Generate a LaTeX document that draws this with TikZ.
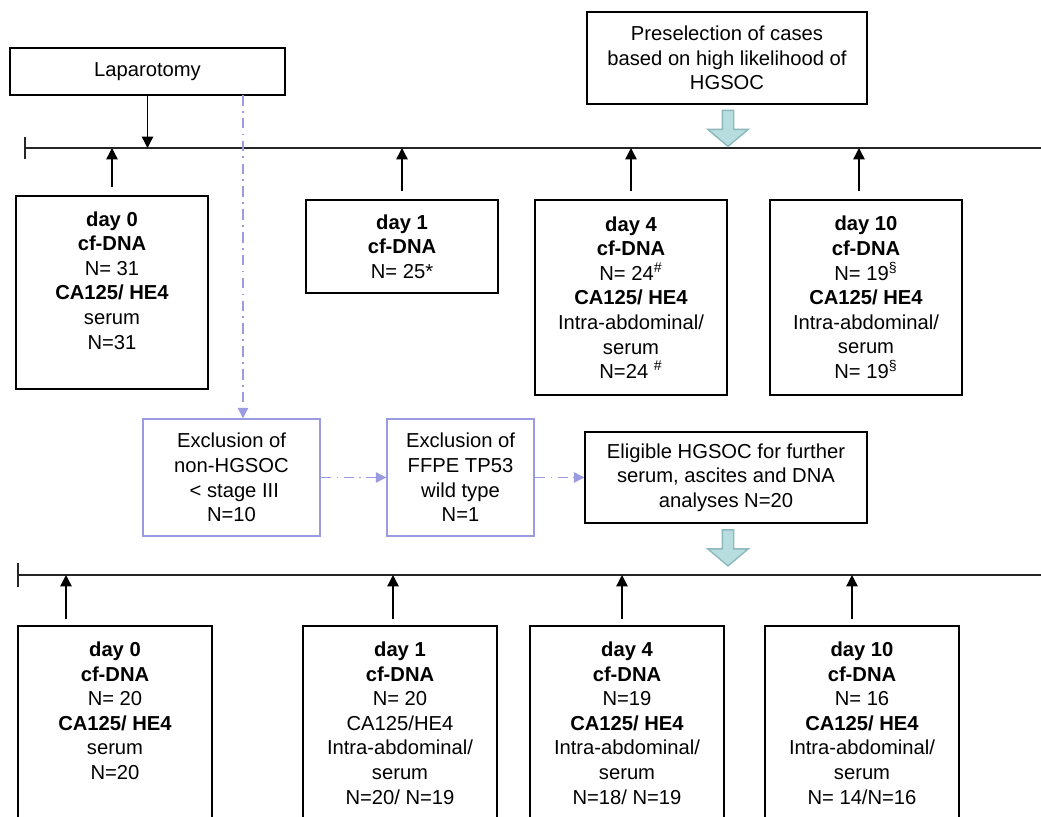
\documentclass[tikz,border=0pt]{standalone}
\usepackage{fontspec}
\setmainfont{Liberation Sans}
\usetikzlibrary{arrows.meta,shapes.arrows}
\definecolor{lavender}{RGB}{155,155,225}
\definecolor{tealfill}{RGB}{183,221,222}
\definecolor{tealline}{RGB}{140,185,188}

\begin{document}
\begin{tikzpicture}[x=0.02cm,y=-0.02cm,font=\fontsize{11.5}{14}\selectfont]
	\useasboundingbox (0,0) rectangle (1041,817);
	\clip (0,0) rectangle (1041,817);

	\begin{scope}[every node/.style={rectangle,draw,line width=0.8pt,align=center,inner sep=0pt}]
	    \node[minimum width=5.5cm,minimum height=0.94cm] (lap) at (147.5,71.5) {Laparotomy};
	    \node[minimum width=5.6cm,minimum height=1.84cm] (pre) at (727,58) {Preselection of cases\\ based on high likelihood of\\ HGSOC};
	    % first time line
	    \node[minimum width=3.84cm,minimum height=3.86cm] (a0) at (112,292.5) {\textbf{day 0}\\ \textbf{cf-DNA}\\ N= 31\\ \textbf{CA125/\ HE4}\\ serum\\ N=31\\ \mbox{}};
	    \node[minimum width=3.84cm,minimum height=1.86cm] (a1) at (402,246.5) {\textbf{day 1}\\ \textbf{cf-DNA}\\ N= 25*};
	    \node[minimum width=3.84cm,minimum height=3.9cm] (a4) at (631,297.5) {\textbf{day 4}\\ \textbf{cf-DNA}\\ N= 24\textsuperscript{\#}\\ \textbf{CA125/\ HE4}\\ Intra-abdominal/\\ serum\\ N=24 \textsuperscript{\#}};
	    \node[minimum width=3.84cm,minimum height=3.9cm] (a10) at (866,297.5) {\textbf{day 10}\\ \textbf{cf-DNA}\\ N= 19\textsuperscript{\S}\\ \textbf{CA125/\ HE4}\\ Intra-abdominal/\\ serum\\ N= 19\textsuperscript{\S}};
	    % selection
	    \node[draw=lavender,minimum width=3.54cm,minimum height=2.34cm] (ex1) at (231.5,477.5) {Exclusion of\\ non-HGSOC\\ \ < stage III\\ N=10};
	    \node[draw=lavender,minimum width=2.94cm,minimum height=2.34cm] (ex2) at (460.5,477.5) {Exclusion of\\ FFPE TP53\\ wild type\\ N=1};
	    \node[minimum width=5.64cm,minimum height=1.82cm] (elig) at (726,477.5) {Eligible HGSOC for further\\ serum, ascites and DNA\\ analyses N=20};
	    % second time line
	    \node[minimum width=3.88cm,minimum height=3.88cm] (b0) at (115,723) {\textbf{day 0}\\ \textbf{cf-DNA}\\ N= 20\\ \textbf{CA125/\ HE4}\\ serum\\ N=20\\ \mbox{}};
	    \node[minimum width=3.88cm,minimum height=3.88cm] (b1) at (400,723) {\textbf{day 1}\\ \textbf{cf-DNA}\\ N= 20\\ CA125/HE4\\ Intra-abdominal/\\ serum\\ N=20/ N=19};
	    \node[minimum width=3.88cm,minimum height=3.88cm] (b4) at (627,723) {\textbf{day 4}\\ \textbf{cf-DNA}\\ N=19\\ \textbf{CA125/\ HE4}\\ Intra-abdominal/\\ serum\\ N=18/ N=19};
	    \node[minimum width=3.88cm,minimum height=3.88cm] (b10) at (862,723) {\textbf{day 10}\\ \textbf{cf-DNA}\\ N= 16\\ \textbf{CA125/\ HE4}\\ Intra-abdominal/\\ serum\\ N= 14/N=16};
	\end{scope}

	% time lines
	\coordinate (t1) at (25,148);
	\coordinate (t1end) at (1041,148);
	\coordinate (t2) at (18,575);
	\coordinate (t2end) at (1041,575);
	\draw[black!85,line width=0.8pt] (t1) -- (t1end);
	\draw[black!85,line width=0.8pt] ([yshift=0.22cm]t1) -- ([yshift=-0.22cm]t1);
	\draw[black!85,line width=0.8pt] (t2) -- (t2end);
	\draw[black!85,line width=0.8pt] ([yshift=0.24cm]t2) -- ([yshift=-0.24cm]t2);

	% block arrows
	\begin{scope}[every node/.style={single arrow,draw=tealline,fill=tealfill,line width=0.8pt,
	              shape border rotate=270,single arrow head extend=0.29cm,single arrow tip angle=100,
	              inner xsep=0.1cm,inner ysep=0.18cm,minimum height=0.72cm}]
	    \node (pdown) at (728,126) {};
	    \node (edown) at (728,545.5) {};
	\end{scope}

	\begin{scope}[>={Triangle[black,length=6.5pt,width=6.5pt]},
	              every edge/.style={draw=black,line width=0.8pt,->}]
	    \path (lap.south) edge (lap.south |- t1);
	    \path ([yshift=0.16cm]a0.north) edge (a0.north |- t1);
	    \path ([yshift=0.16cm]a1.north) edge (a1.north |- t1);
	    \path ([yshift=0.16cm]a4.north) edge (a4.north |- t1);
	    \path ([xshift=-0.14cm,yshift=0.16cm]a10.north) edge ([xshift=-0.14cm]a10.north |- t1);
	    \path ([xshift=-0.98cm,yshift=0.12cm]b0.north) edge ([xshift=-0.98cm]b0.north |- t2);
	    \path ([xshift=-0.14cm,yshift=0.12cm]b1.north) edge ([xshift=-0.14cm]b1.north |- t2);
	    \path ([xshift=-0.1cm,yshift=0.12cm]b4.north) edge ([xshift=-0.1cm]b4.north |- t2);
	    \path ([xshift=-0.2cm,yshift=0.12cm]b10.north) edge ([xshift=-0.2cm]b10.north |- t2);
	\end{scope}

	\begin{scope}[>={Triangle[lavender,length=6pt,width=6pt]},
	              every edge/.style={draw=lavender,line width=0.6pt,->,dash pattern=on 6pt off 3pt on 1pt off 3pt}]
	    \coordinate (drop) at (243,95);
	    \path (drop) edge (drop |- ex1.north);
	    \path (ex1) edge (ex2);
	    \path (ex2) edge (elig);
	\end{scope}
\end{tikzpicture}
\end{document}
